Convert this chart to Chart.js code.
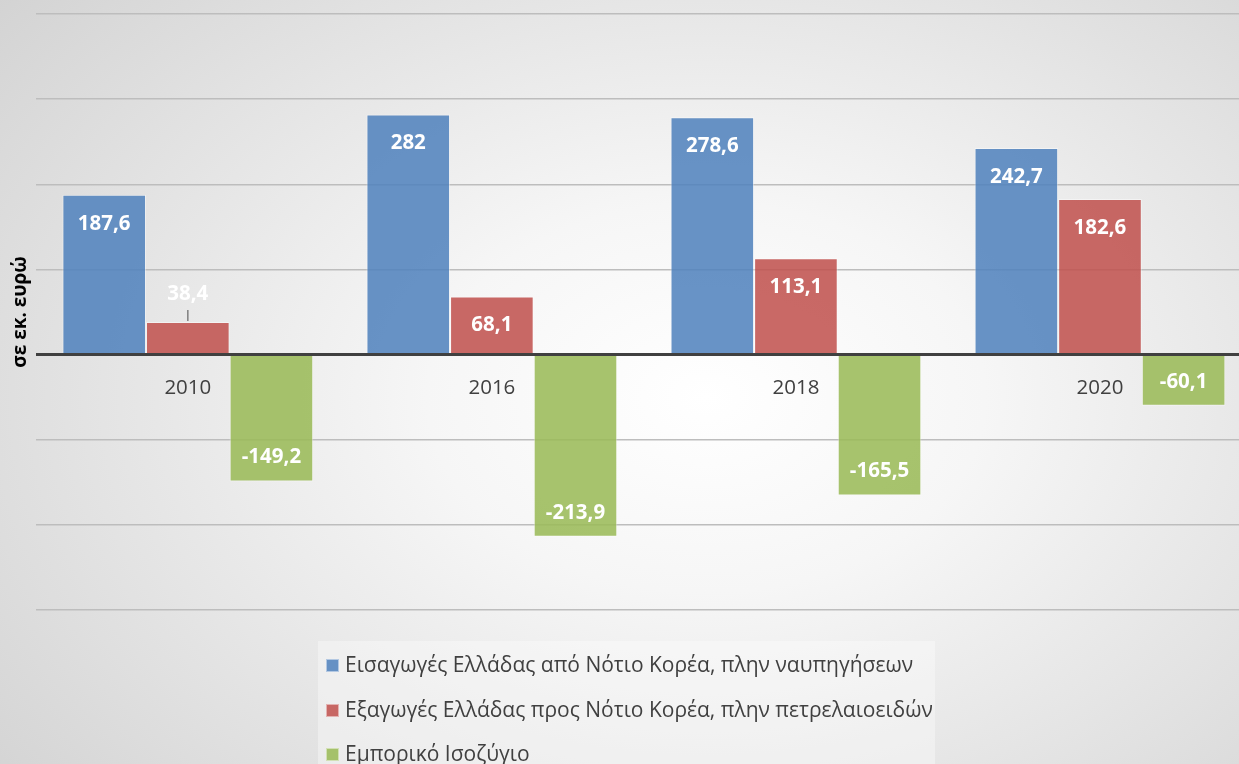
<!DOCTYPE html>
<html>
<head>
<meta charset="utf-8">
<script src="https://cdn.jsdelivr.net/npm/chart.js@4.4.1/dist/chart.umd.min.js"></script>
<style>
  html, body { margin:0; padding:0; width:1239px; height:764px; overflow:hidden; }
  body { background: radial-gradient(ellipse 75% 85% at 57% 52%, #ffffff 0%, #f6f6f6 30%, #e4e4e4 65%, #d2d2d2 100%); position:relative; font-family:"Open Sans", sans-serif; }
  #wrap { position:absolute; left:0; top:0; width:1252px; height:764px; }
  #legend { position:absolute; left:318px; top:641px; width:617px; height:130px; background:rgba(255,255,255,0.35); }
  .item { position:absolute; left:8px; height:28px; line-height:28px; font-size:21px; color:#404040; white-space:nowrap; }
  .sw { display:inline-block; width:13px; height:13px; margin-right:6px; vertical-align:0px; border:1px solid rgba(255,255,255,0.5); box-sizing:border-box; }
</style>
</head>
<body>
<div id="wrap"><canvas id="c"></canvas></div>
<div id="legend"></div>
<script>
const categories = ["2010", "2016", "2018", "2020"];
const seriesNames = [
  "Εισαγωγές Ελλάδας από Νότιο Κορέα, πλην ναυπηγήσεων",
  "Εξαγωγές Ελλάδας προς Νότιο Κορέα, πλην πετρελαιοειδών",
  "Εμπορικό Ισοζύγιο"
];
const imports = [187.6, 282, 278.6, 242.7];
const exports_ = [38.4, 68.1, 113.1, 182.6];
const balance = [-149.2, -213.9, -165.5, -60.1];
const yTitle = "σε εκ. ευρώ";
const seriesColors = ["rgba(79,129,189,0.86)", "rgba(192,80,77,0.86)", "rgba(155,187,89,0.88)"];

const fmt = v => String(v).replace('.', ',');

const labelPlugin = {
  id: 'labels',
  afterDatasetsDraw(chart) {
    const ctx = chart.ctx;
    ctx.save();
    const xs = chart.scales.x, ys = chart.scales.y;
    const y0 = ys.getPixelForValue(0);
    ctx.font = '20.5px "Open Sans"';
    ctx.fillStyle = '#404040';
    ctx.textAlign = 'center';
    ctx.textBaseline = 'middle';
    categories.forEach((c, i) => ctx.fillText(c, xs.getPixelForValue(i), y0 + 34));
    ctx.font = 'bold 20.5px "Open Sans"';
    chart.data.datasets.forEach((ds, di) => {
      const meta = chart.getDatasetMeta(di);
      meta.data.forEach((el, i) => {
        const v = ds.data[i];
        const h = Math.abs(el.base - el.y);
        ctx.fillStyle = '#ffffff';
        if (v >= 0) {
          if (h > 45) {
            ctx.fillText(fmt(v), el.x, el.y + 29);
          } else {
            ctx.fillText(fmt(v), el.x, el.y - 28);
            ctx.strokeStyle = '#7f7f7f';
            ctx.lineWidth = 1.5;
            ctx.beginPath();
            ctx.moveTo(el.x, el.y - 12);
            ctx.lineTo(el.x, el.y - 1);
            ctx.stroke();
          }
        } else {
          ctx.fillText(fmt(v), el.x, el.y - 24);
        }
      });
    });
    ctx.restore();
  }
};

new Chart(document.getElementById('c'), {
  type: 'bar',
  data: {
    labels: categories,
    datasets: [
      { label: seriesNames[0], data: imports, backgroundColor: seriesColors[0] },
      { label: seriesNames[1], data: exports_, backgroundColor: seriesColors[1] },
      { label: seriesNames[2], data: balance, backgroundColor: seriesColors[2] }
    ].map(d => Object.assign(d, { borderColor: 'rgba(255,255,255,0.45)', borderWidth: 1, categoryPercentage: 0.825, barPercentage: 1.0 }))
  },
  options: {
    responsive: true,
    maintainAspectRatio: false,
    animation: false,
    layout: { padding: { top: 14, bottom: 154, left: 0, right: 0 } },
    plugins: { legend: { display: false }, tooltip: { enabled: false } },
    scales: {
      x: { display: false },
      y: {
        min: -300, max: 400,
        ticks: { display: false, stepSize: 100 },
        border: { display: false },
        grid: {
          drawTicks: false,
          color: c => c.tick && c.tick.value === 0 ? '#404040' : '#bdbdbd',
          lineWidth: c => c.tick && c.tick.value === 0 ? 3 : 1.5
        },
        title: {
          display: true, text: yTitle, color: '#000000',
          font: { family: '"Open Sans"', size: 19, weight: 'bold' },
          padding: { top: 9, bottom: 4 }
        }
      }
    }
  },
  plugins: [labelPlugin]
});

const legend = document.getElementById('legend');
const tops = [9, 54, 98];
seriesNames.forEach((n, i) => {
  const d = document.createElement('div');
  d.className = 'item';
  d.style.top = tops[i] + 'px';
  const s = document.createElement('span');
  s.className = 'sw';
  s.style.background = seriesColors[i];
  d.appendChild(s);
  d.appendChild(document.createTextNode(n));
  legend.appendChild(d);
});
</script>
</body>
</html>
